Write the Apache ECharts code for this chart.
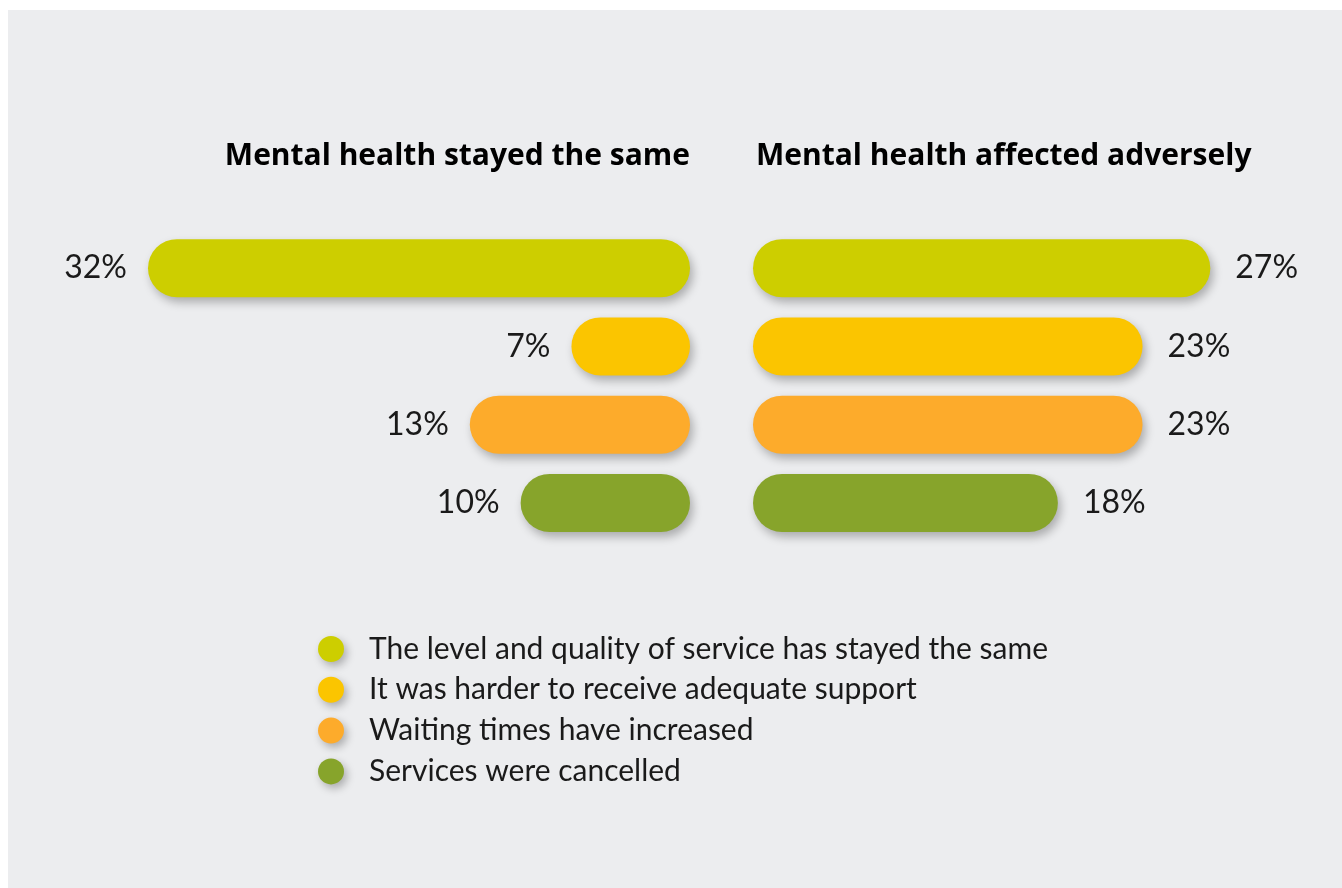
<!DOCTYPE html>
<html>
<head>
<meta charset="utf-8">
<script src="https://cdn.jsdelivr.net/npm/echarts@6/dist/echarts.min.js"></script>
<style>
  html, body { margin: 0; padding: 0; background: #ffffff; }
  #chart { width: 1342px; height: 888px; }
</style>
</head>
<body>
<div id="chart"></div>
<script>
// Response categories (top to bottom), shared by both panels and the legend
const categories = [
  'The level and quality of service has stayed the same',
  'It was harder to receive adequate support',
  'Waiting times have increased',
  'Services were cancelled'
];
// Share of respondents (%) in each group
const stayedSame = [32, 7, 13, 10];
const affectedAdversely = [27, 23, 23, 18];
const panelTitles = ['Mental health stayed the same', 'Mental health affected adversely'];
const colors = ['#CDCE00', '#FBC500', '#FDAB2B', '#87A42B'];

const FONT = 'Lato, "Noto Sans", sans-serif';
const TITLE_FONT = '"Open Sans", Lato, sans-serif';
const AXIS_MAX = 32;

const barShadow = {
  shadowBlur: 10,
  shadowColor: 'rgba(0,0,0,0.28)',
  shadowOffsetX: 3,
  shadowOffsetY: 5
};

function panelSeries(values, gridIndex, side) {
  return categories.map((name, i) => ({
    name: name,
    type: 'bar',
    xAxisIndex: gridIndex,
    yAxisIndex: gridIndex,
    barWidth: 58,
    barGap: '-100%',
    data: categories.map((_, j) => (j === i ? values[j] : '-')),
    itemStyle: Object.assign({ color: colors[i], borderRadius: 29 }, barShadow),
    label: {
      show: true,
      position: side,
      distance: side === 'left' ? 21 : 25,
      formatter: '{c}%',
      fontFamily: FONT,
      fontSize: 32,
      color: '#1a1a1a'
    },
    emphasis: { disabled: true }
  }));
}

const chart = echarts.init(document.getElementById('chart'), null, { renderer: 'canvas' });

const titleStyle = { fontFamily: TITLE_FONT, fontWeight: 'bold', fontSize: 30, color: '#000' };

chart.setOption({
  backgroundColor: '#ffffff',
  animation: false,
  graphic: [{
    type: 'rect',
    z: -1,
    shape: { x: 8, y: 10, width: 1342, height: 888 },
    style: { fill: '#ECEDEF' }
  }],
  title: [
    { text: panelTitles[0], right: 1342 - 695, top: 136, textStyle: titleStyle },
    { text: panelTitles[1], left: 751, top: 136, textStyle: titleStyle }
  ],
  grid: [
    { left: 690 - 542, width: 542, top: 229, height: 313 },
    { left: 753, width: 542, top: 229, height: 313 }
  ],
  xAxis: [
    { gridIndex: 0, type: 'value', min: 0, max: AXIS_MAX, inverse: true, show: false },
    { gridIndex: 1, type: 'value', min: 0, max: AXIS_MAX, show: false }
  ],
  yAxis: [
    { gridIndex: 0, type: 'category', data: categories, inverse: true, show: false },
    { gridIndex: 1, type: 'category', data: categories, inverse: true, show: false }
  ],
  legend: {
    data: categories,
    orient: 'vertical',
    left: 313,
    top: 629,
    icon: 'circle',
    itemWidth: 26,
    itemHeight: 26,
    itemGap: 10.8,
    itemStyle: Object.assign({}, barShadow, { shadowBlur: 8, shadowOffsetY: 4 }),
    textStyle: {
      fontFamily: FONT,
      fontSize: 30,
      lineHeight: 26,
      color: '#1a1a1a',
      padding: [0, 0, 0, 20]
    },
    selectedMode: false
  },
  series: panelSeries(stayedSame, 0, 'left').concat(panelSeries(affectedAdversely, 1, 'right'))
});
</script>
</body>
</html>
